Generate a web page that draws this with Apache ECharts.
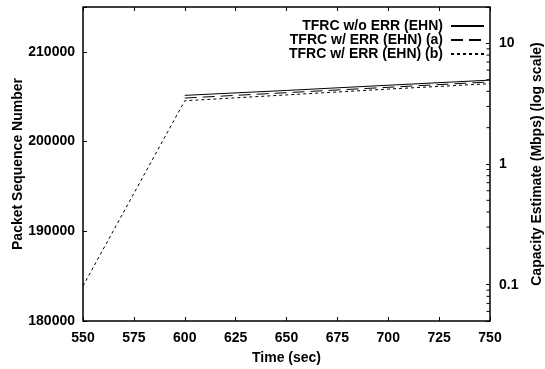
<!DOCTYPE html>
<html>
<head>
<meta charset="utf-8">
<script src="https://cdn.jsdelivr.net/npm/echarts@6/dist/echarts.min.js"></script>
<style>html,body{margin:0;padding:0;background:#fff}#c{width:545px;height:369px}</style>
</head>
<body>
<div id="c"></div>
<script>
// ---- data ----
var seriesNames = ['TFRC w/o ERR (EHN)', 'TFRC w/ ERR (EHN) (a)', 'TFRC w/ ERR (EHN) (b)'];
var timeSolid = [600, 650, 700, 750];
var seqSolid = [205150, 205700, 206280, 206850];
var timeA = [600, 650, 700, 750];
var seqA = [204850, 205450, 206050, 206650];
var timeB = [550, 600, 650, 700, 750];
var seqB = [183900, 204550, 205200, 205850, 206450];
var xTicks = [550, 575, 600, 625, 650, 675, 700, 725, 750];
var yTicks = [180000, 190000, 200000, 210000];
var capTicks = [0.1, 1, 10];

var xMin = 550, xMax = 750, yMin = 180000, yMax = 215000, capMin = 0.05, capMax = 20;

function zip(xs, ys) { return xs.map(function (x, i) { return [x, ys[i]]; }); }

// minor tick values for the log axis (2..9 per decade)
var capMinor = [];
[0.01, 0.1, 1, 10].forEach(function (d) {
  for (var m = 2; m <= 9; m++) { var v = +(d * m).toPrecision(3); if (v > capMin && v < capMax) capMinor.push(v); }
});

var font = 'Liberation Sans, Arial, sans-serif';
var txt = { fontFamily: font, fontSize: 14, fontWeight: 'bold', color: '#000' };
var chart = echarts.init(document.getElementById('c'), null, { renderer: 'canvas' });
chart.setOption({
  animation: false,
  backgroundColor: '#fff',
  grid: { left: 83, right: 55, top: 7, bottom: 48, show: true, borderColor: '#000', borderWidth: 1.5,
    backgroundColor: 'transparent', containLabel: false, outerBoundsMode: 'none' },
  legend: {
    orient: 'vertical', align: 'right', right: 55, top: 14, itemGap: 0,
    itemWidth: 33, itemHeight: 14,
    itemStyle: { opacity: 0, color: 'transparent', borderWidth: 0 },
    textStyle: { fontFamily: font, fontSize: 14, fontWeight: 'bold', color: '#000', padding: [0, 3, 0, 0] },
    data: seriesNames
  },
  xAxis: [{
    type: 'value', min: xMin, max: xMax, interval: 25, position: 'bottom',
    name: 'Time (sec)', nameLocation: 'middle', nameGap: 30, nameMoveOverlap: false,
    nameTextStyle: txt,
    axisLine: { show: false }, splitLine: { show: false },
    axisTick: { inside: true, length: 4, lineStyle: { color: '#000' } },
    axisLabel: Object.assign({ margin: 10,
      formatter: function (v) { return xTicks.indexOf(v) >= 0 ? String(v) : ''; } }, txt)
  }, {
    type: 'value', min: xMin, max: xMax, interval: 25, position: 'top',
    axisLine: { show: false }, splitLine: { show: false }, axisLabel: { show: false },
    axisTick: { inside: true, length: 4, lineStyle: { color: '#000' } }
  }],
  yAxis: [{
    type: 'value', min: yMin, max: yMax, interval: 10000, position: 'left',
    name: 'Packet Sequence Number', nameLocation: 'middle', nameGap: 58, nameRotate: 90, nameMoveOverlap: false,
    nameTextStyle: txt,
    axisLine: { show: false }, splitLine: { show: false },
    axisTick: { inside: true, length: 4, lineStyle: { color: '#000' } },
    axisLabel: Object.assign({ margin: 8,
      formatter: function (v) { return yTicks.indexOf(v) >= 0 ? String(v) : ''; } }, txt)
  }, {
    type: 'log', min: capMin, max: capMax, position: 'right', logBase: 10,
    name: 'Capacity Estimate (Mbps) (log scale)', nameLocation: 'middle', nameGap: 40, nameRotate: 90,
    nameTextStyle: txt,
    axisLine: { show: false }, splitLine: { show: false }, minorTick: { show: false },
    axisTick: { inside: true, length: 4, lineStyle: { color: '#000' } },
    axisLabel: Object.assign({ margin: 9,
      formatter: function (v) {
        for (var i = 0; i < capTicks.length; i++) { if (Math.abs(v - capTicks[i]) / capTicks[i] < 1e-6) return String(capTicks[i]); }
        return '';
      } }, txt)
  }],
  series: [{
    name: seriesNames[0], type: 'line', symbol: 'none', data: zip(timeSolid, seqSolid),
    lineStyle: { color: '#000', width: 1, type: 'solid' }, itemStyle: { color: '#000' }
  }, {
    name: seriesNames[1], type: 'line', symbol: 'none', data: zip(timeA, seqA),
    lineStyle: { color: '#000', width: 1, type: [12, 6] }, itemStyle: { color: '#000' }
  }, {
    name: seriesNames[2], type: 'line', symbol: 'none', data: zip(timeB, seqB),
    lineStyle: { color: '#000', width: 1, type: [3, 3] }, itemStyle: { color: '#000' }
  }, {
    type: 'custom', yAxisIndex: 1, silent: true, clip: false, z: 10,
    data: capMinor.map(function (v) { return [xMax, v]; }),
    renderItem: function (params, api) {
      var p = api.coord([api.value(0), api.value(1)]);
      return { type: 'line', shape: { x1: p[0] - 3.5, y1: p[1], x2: p[0], y2: p[1] }, style: { stroke: '#000', lineWidth: 1 } };
    }
  }]
});
</script>
</body>
</html>
